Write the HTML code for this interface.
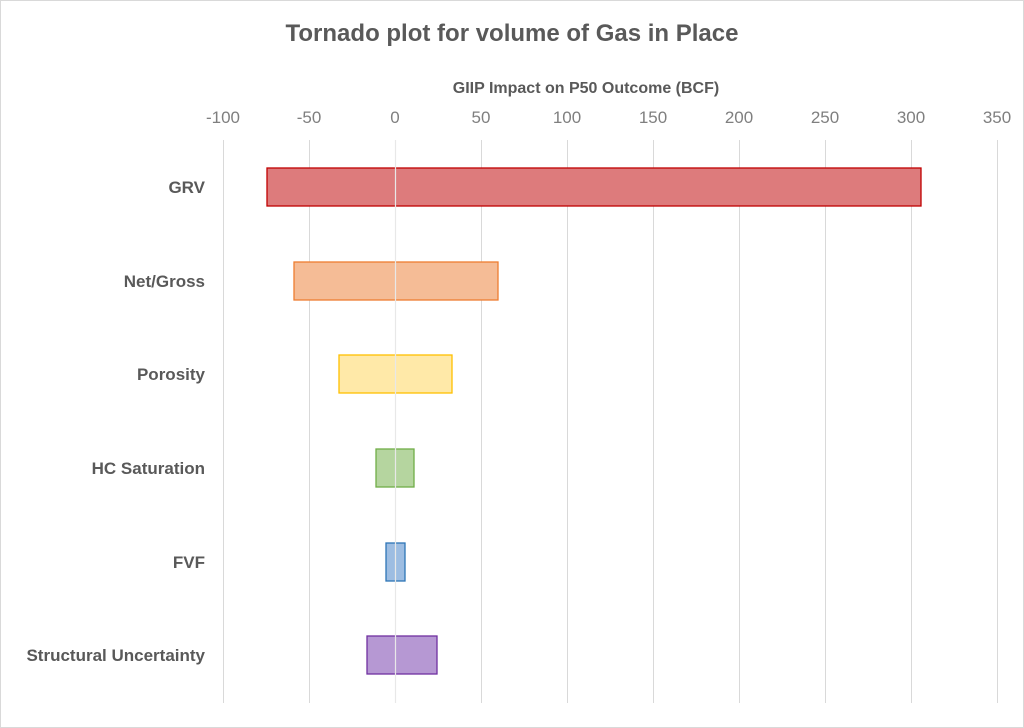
<!DOCTYPE html>
<html><head><meta charset="utf-8"><style>
html,body{margin:0;padding:0;background:#fff;}
svg{display:block;font-family:"Liberation Sans",Calibri,sans-serif;}
</style></head><body>
<svg width="1024" height="728" viewBox="0 0 1024 728">
<rect x="0.5" y="0.5" width="1023" height="727" fill="#fff" stroke="#d9d9d9"/>
<text x="512" y="41" text-anchor="middle" font-size="24" font-weight="bold" fill="#595959">Tornado plot for volume of Gas in Place</text>
<text x="586" y="93" text-anchor="middle" font-size="16" font-weight="bold" fill="#595959">GIIP Impact on P50 Outcome (BCF)</text>
<g font-size="17" fill="#7f7f7f" text-anchor="middle">
<text x="223" y="123">-100</text><text x="309" y="123">-50</text><text x="395" y="123">0</text><text x="481" y="123">50</text><text x="567" y="123">100</text><text x="653" y="123">150</text><text x="739" y="123">200</text><text x="825" y="123">250</text><text x="911" y="123">300</text><text x="997" y="123">350</text>
</g>
<g stroke="#d9d9d9" stroke-width="1">
<line x1="223.5" y1="140" x2="223.5" y2="703"/><line x1="309.5" y1="140" x2="309.5" y2="703"/><line x1="481.5" y1="140" x2="481.5" y2="703"/><line x1="567.5" y1="140" x2="567.5" y2="703"/><line x1="653.5" y1="140" x2="653.5" y2="703"/><line x1="739.5" y1="140" x2="739.5" y2="703"/><line x1="825.5" y1="140" x2="825.5" y2="703"/><line x1="911.5" y1="140" x2="911.5" y2="703"/><line x1="997.5" y1="140" x2="997.5" y2="703"/>
</g>
<rect x="267" y="168" width="654" height="38" fill="#dd7b7c" stroke="#c00000" stroke-width="1.3"/>
<rect x="294" y="262" width="204" height="38" fill="#f5bc96" stroke="#ed7d31" stroke-width="1.3"/>
<rect x="339" y="355" width="113" height="38" fill="#ffe9a8" stroke="#ffc000" stroke-width="1.3"/>
<rect x="376" y="449" width="38" height="38" fill="#b5d59f" stroke="#70ad47" stroke-width="1.3"/>
<rect x="386" y="543" width="19" height="38" fill="#9dbde2" stroke="#2e75b6" stroke-width="1.3"/>
<rect x="367" y="636" width="70" height="38" fill="#b698d3" stroke="#7030a0" stroke-width="1.3"/>
<line x1="395.5" y1="140" x2="395.5" y2="703" stroke="#e8e8e8" stroke-width="1.2"/>
<g font-size="17" font-weight="bold" fill="#595959" text-anchor="end">
<text x="205" y="193">GRV</text>
<text x="205" y="287">Net/Gross</text>
<text x="205" y="380">Porosity</text>
<text x="205" y="474">HC Saturation</text>
<text x="205" y="568">FVF</text>
<text x="205" y="661">Structural Uncertainty</text>
</g>
</svg>
</body></html>
